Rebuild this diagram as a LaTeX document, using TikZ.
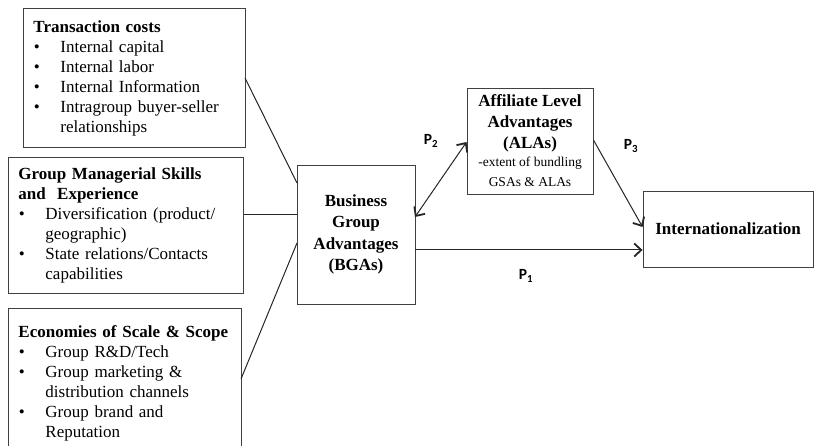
\documentclass[tikz,border=0pt]{standalone}
\usepackage{fontspec}
\setmainfont{Liberation Serif}
\newfontfamily\pfont{Carlito}
\usetikzlibrary{arrows.meta}
\newcommand{\bitm}[1]{\par\hangindent=27pt\hangafter=1\noindent\makebox[27pt][l]{\hspace{0.5pt}\textbullet}#1\par}
\newcommand{\smtxt}{\mdseries\fontsize{13.5}{16}\selectfont}
\tikzset{
  lbox/.style={draw=black!75, line width=0.9pt, anchor=north west, inner xsep=10pt, inner ysep=0pt,
    align=left, font=\fontsize{17}{20}\selectfont},
  cbox/.style={draw=black!75, line width=0.9pt, align=center, inner sep=0pt},
  conn/.style={line width=1pt, draw=black!85},
  tip/.tip={Straight Barb[length=7pt,width=13pt,line width=1.8pt]},
  arr/.style={conn, -tip},
  darr/.style={conn, tip-tip},
  plabel/.style={font=\pfont\bfseries\fontsize{15.5}{15.5}\selectfont, inner sep=0pt}
}
\begin{document}
\begin{tikzpicture}[x=1pt,y=-1pt]
\useasboundingbox (0,0) rectangle (814,446);
\fill[white] (0,0) rectangle (814,446);
% left boxes
\node[lbox, text width=202pt, minimum height=139pt] (tc) at (23,8)
 {\textbf{Transaction costs}\bitm{Internal capital}\bitm{Internal labor}\bitm{Internal Information}\bitm{Intragroup buyer-seller\newline relationships}};
\node[lbox, text width=215pt, minimum height=136pt] (gm) at (8,157)
 {\textbf{Group Managerial Skills}\newline\textbf{and\ \ Experience}\bitm{Diversification (product/\newline geographic)}\bitm{State relations/Contacts\newline capabilities}};
\node[lbox, text width=213pt, minimum height=150pt, inner ysep=6pt] (es) at (8,308)
 {\textbf{Economies of Scale \& Scope}\bitm{Group R\&D/Tech}\bitm{Group marketing \&\newline distribution channels}\bitm{Group brand and\newline Reputation}\vspace{14pt}};
% middle
\node[cbox, minimum width=118pt, minimum height=139pt, font=\bfseries\fontsize{17}{21.5}\selectfont] (bga) at (356,234.5)
 {Business\\Group\\Advantages\\(BGAs)};
\node[cbox, minimum width=126pt, minimum height=106pt, font=\bfseries\fontsize{17}{21}\selectfont] (ala) at (530,141)
 {Affiliate Level\\Advantages\\(ALAs)\\[-3pt]{\smtxt -extent of bundling}\\[-1pt]{\smtxt GSAs \& ALAs}};
\node[cbox, minimum width=170pt, minimum height=76pt, font=\bfseries\fontsize{17}{20}\selectfont] (intl) at (728,229)
 {Internationalization};
% connectors
\coordinate (tcx) at (245,78);
\coordinate (bgaA) at (297,183);
\draw[conn] (tcx) -- (bgaA);
\draw[conn] (gm.east |- 0,215) -- (bga.west |- 0,215);
\coordinate (esx) at (241,379);
\coordinate (bgaB) at (297,243);
\draw[conn] (esx) -- (bgaB);
\draw[arr] (bga.east |- 0,250) -- (intl.west |- 0,250);
\draw[darr] (415,217) -- (ala.west |- 0,142);
\draw[arr] (ala.east |- 0,140) -- (intl.west |- 0,227);
% labels
\node[plabel] (p2) at (431,141) {P\textsubscript{2}};
\node[plabel] (p3) at (631,146) {P\textsubscript{3}};
\node[plabel] (p1) at (526,276) {P\textsubscript{1}};
\end{tikzpicture}
\end{document}
